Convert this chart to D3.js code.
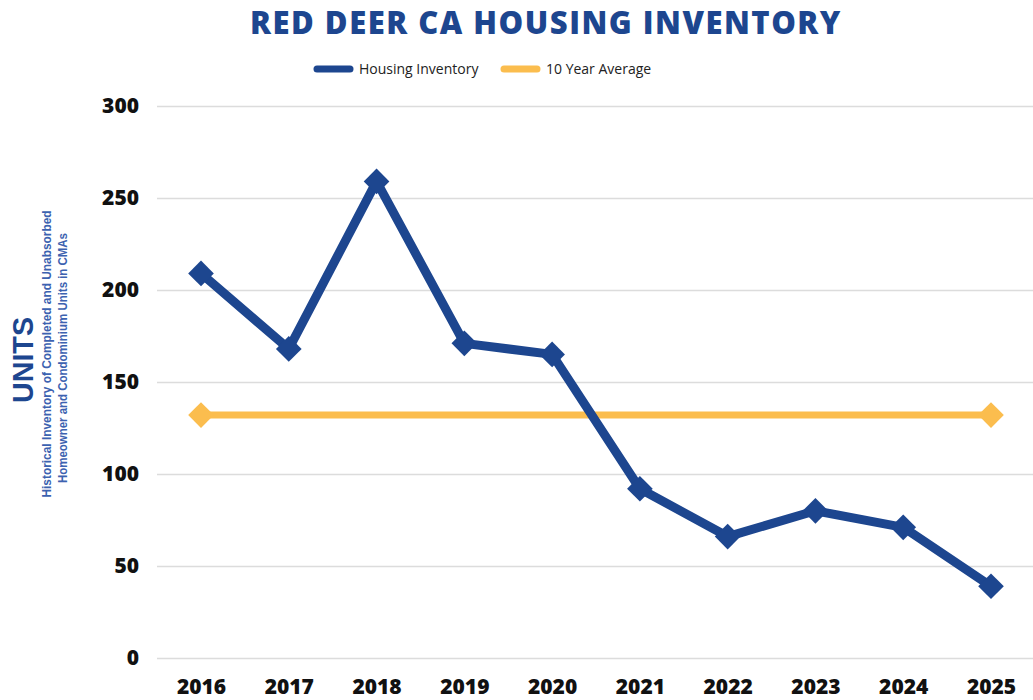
<!DOCTYPE html>
<html>
<head>
<meta charset="utf-8">
<script src="https://cdn.jsdelivr.net/npm/d3@7"></script>
<style>
  body { margin: 0; background: #fff; }
  svg { display: block; }
</style>
</head>
<body>
<script>
// chart data
var years = [2016, 2017, 2018, 2019, 2020, 2021, 2022, 2023, 2024, 2025];
var inventory = [209, 168, 259, 171, 165, 92, 66, 80, 71, 39];
var average = [132, 132, 132, 132, 132, 132, 132, 132, 132, 132];
var yTicks = [0, 50, 100, 150, 200, 250, 300];

var width = 1033,
	height = 700;

var blue = "#1d468f",
	orange = "#fbbd4e";

var svg = d3.select("body").append("svg")
	.attr("width", width)
	.attr("height", height);

var xScale = d3.scalePoint()
	.domain(years)
	.range([201, 991]);

var yScale = d3.scaleLinear()
	.domain([0, 300])
	.range([658, 106]);

// gridlines
svg.append("g")
	.attr("transform", "translate(157,0)")
	.call(d3.axisLeft(yScale).tickValues(yTicks).tickSize(-(1033 - 157)).tickFormat(""))
	.call(function(g){
		g.select(".domain").remove();
		g.selectAll("line").attr("stroke", "#dcdcdc").attr("stroke-width", 1.5);
	});

// y tick labels
svg.append("g")
	.attr("transform", "translate(139,0)")
	.call(d3.axisLeft(yScale).tickValues(yTicks).tickSize(0).tickPadding(0))
	.call(function(g){
		g.select(".domain").remove();
		g.selectAll("text")
			.attr("font-family", "'Open Sans', sans-serif")
			.attr("font-weight", 800)
			.attr("font-size", 21)
			.attr("fill", "#111");
	});

// x tick labels
svg.append("g")
	.attr("transform", "translate(0,679)")
	.call(d3.axisBottom(xScale).tickSize(0).tickPadding(0))
	.call(function(g){
		g.select(".domain").remove();
		g.selectAll("text")
			.attr("font-family", "'Open Sans', sans-serif")
			.attr("font-weight", 800)
			.attr("font-size", 21)
			.attr("fill", "#111");
	});

var line = d3.line()
	.x(function(d, i){ return xScale(years[i]); })
	.y(function(d){ return yScale(d); });

var diamond = d3.symbol().type(d3.symbolDiamond2).size(420);

// 10 year average
svg.append("path")
	.datum(average)
	.attr("d", line)
	.attr("fill", "none")
	.attr("stroke", orange)
	.attr("stroke-width", 7);

svg.selectAll(".avg")
	.data([0, average.length - 1])
	.enter()
	.append("path")
		.attr("class", "avg")
		.attr("d", diamond)
		.attr("transform", function(i){
			return "translate(" + xScale(years[i]) + "," + yScale(average[i]) + ")";
		})
		.attr("fill", orange);

// housing inventory
svg.append("path")
	.datum(inventory)
	.attr("d", line)
	.attr("fill", "none")
	.attr("stroke", blue)
	.attr("stroke-width", 9)
	.attr("stroke-linejoin", "round");

svg.selectAll(".inv")
	.data(inventory)
	.enter()
	.append("path")
		.attr("class", "inv")
		.attr("d", diamond)
		.attr("transform", function(d, i){
			return "translate(" + xScale(years[i]) + "," + yScale(d) + ")";
		})
		.attr("fill", blue);

// title
svg.append("text")
	.attr("x", 546)
	.attr("y", 34)
	.attr("text-anchor", "middle")
	.attr("font-family", "'Open Sans', sans-serif")
	.attr("font-weight", 800)
	.attr("font-size", 31)
	.attr("letter-spacing", 1.5)
	.attr("fill", blue)
	.text("RED DEER CA HOUSING INVENTORY");

// legend
var legend = [
	{ name: "Housing Inventory", color: blue, x: 317 },
	{ name: "10 Year Average", color: orange, x: 504 }
];

var lg = svg.selectAll(".legend")
	.data(legend)
	.enter()
	.append("g")
		.attr("class", "legend")
		.attr("transform", function(d){ return "translate(" + d.x + ",69)"; });

lg.append("line")
	.attr("x1", 0)
	.attr("x2", 33)
	.attr("stroke", function(d){ return d.color; })
	.attr("stroke-width", 7)
	.attr("stroke-linecap", "round");

lg.append("text")
	.attr("x", 42)
	.attr("y", 5)
	.attr("font-family", "'Open Sans', sans-serif")
	.attr("font-size", 14)
	.attr("fill", "#222")
	.text(function(d){ return d.name; });

// y axis titles
svg.append("text")
	.attr("transform", "translate(33,360) rotate(-90)")
	.attr("text-anchor", "middle")
	.attr("font-family", "'Liberation Sans Narrow', 'Liberation Sans', sans-serif")
	.attr("font-weight", 700)
	.attr("font-size", 30)
	.attr("textLength", 86)
	.attr("lengthAdjust", "spacingAndGlyphs")
	.attr("fill", blue)
	.text("UNITS");

svg.append("text")
	.attr("transform", "translate(51,354) rotate(-90)")
	.attr("text-anchor", "middle")
	.attr("font-family", "'Liberation Sans Narrow', 'Liberation Sans', sans-serif")
	.attr("font-weight", 700)
	.attr("font-size", 13)
	.attr("textLength", 287)
	.attr("lengthAdjust", "spacingAndGlyphs")
	.attr("fill", "#3c62b0")
	.text("Historical Inventory of Completed and Unabsorbed");

svg.append("text")
	.attr("transform", "translate(67,358) rotate(-90)")
	.attr("text-anchor", "middle")
	.attr("font-family", "'Liberation Sans Narrow', 'Liberation Sans', sans-serif")
	.attr("font-weight", 700)
	.attr("font-size", 13)
	.attr("textLength", 250)
	.attr("lengthAdjust", "spacingAndGlyphs")
	.attr("fill", "#3c62b0")
	.text("Homeowner and Condominium Units in CMAs");
</script>
</body>
</html>
